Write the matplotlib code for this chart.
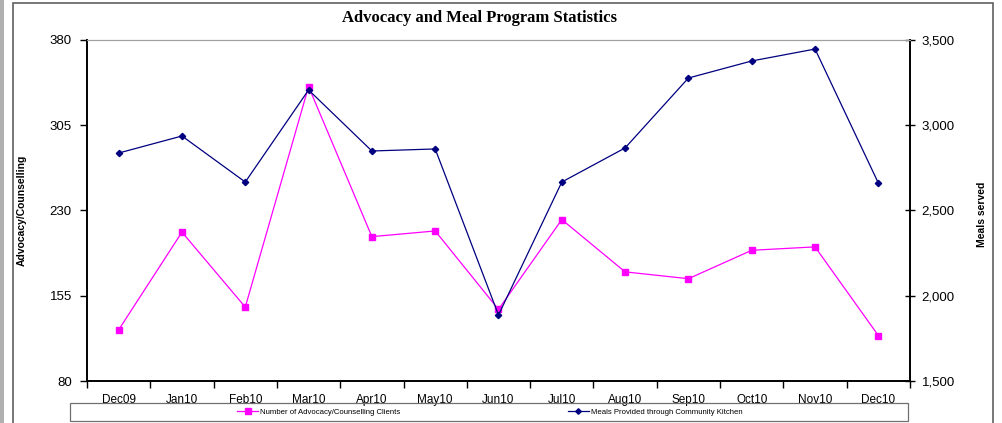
import matplotlib
matplotlib.use("Agg")
import matplotlib.pyplot as plt
from matplotlib.patches import Rectangle
from matplotlib.lines import Line2D
import numpy as np

months = ['Dec09', 'Jan10', 'Feb10', 'Mar10', 'Apr10', 'May10', 'Jun10',
          'Jul10', 'Aug10', 'Sep10', 'Oct10', 'Nov10', 'Dec10']

# advocacy / counselling clients (left axis)
advocacy = [125, 211, 145, 339, 207, 212, 143, 222, 176, 170, 195, 198, 120]

# meals from community kitchen (right axis)
meals = [2837, 2937, 2667, 3207, 2849, 2861, 1887, 2667, 2867, 3277, 3377, 3447, 2661]

plt.rcParams['font.family'] = ['Liberation Sans', 'DejaVu Sans']

W, H = 1003, 423
fig = plt.figure(figsize=(W / 100, H / 100), dpi=100)

# chart outer border + left strip
fig.patches.append(Rectangle((13 / W, -0.01), 980 / W, 1 - 3 / H + 0.01,
                             transform=fig.transFigure, fill=False,
                             edgecolor='#606060', lw=1.2))
fig.patches.append(Rectangle((0, 0), 4 / W, 1, transform=fig.transFigure,
                             facecolor='#b0b0b0', edgecolor='none'))

ax = fig.add_axes([87 / W, 1 - 381 / H, 823 / W, 341 / H])
ax2 = ax.twinx()

x = np.arange(len(months))
ax.plot(x, advocacy, color='#FF00FF', lw=0.9, marker='s', ms=5,
        mec='#FF00FF', mfc='#FF00FF', zorder=3)
ax2.plot(x, meals, color='#000080', lw=0.9, marker='D', ms=3.2,
         mec='#000080', mfc='#000080', zorder=3)

ax.set_xlim(-0.5, len(months) - 0.5)
ax.set_ylim(80, 380)
ax.set_yticks([80, 155, 230, 305, 380])
ax2.set_ylim(1500, 3500)
ax2.set_yticks([1500, 2000, 2500, 3000, 3500])
ax2.set_yticklabels(['1,500', '2,000', '2,500', '3,000', '3,500'])

ax.set_xticks(x)
ax.set_xticklabels(months, fontsize=8.5)
ax.set_xticks(np.arange(-0.5, len(months)), minor=True)
ax.tick_params(axis='x', which='major', length=0, pad=9)
ax.tick_params(axis='x', which='minor', length=5, direction='out', width=1)
ax.tick_params(axis='y', length=5, direction='out', labelsize=9.5, width=1, pad=6)
ax2.tick_params(axis='y', length=7, direction='inout', labelsize=9.5, width=1, pad=5)

for a in (ax, ax2):
    a.spines['top'].set_color('#a0a0a0')
    a.spines['left'].set_linewidth(1.2)
    a.spines['bottom'].set_linewidth(1.2)
    a.spines['right'].set_linewidth(1.2)

ax.set_ylabel('Advocacy/Counselling', fontsize=7.5, fontweight='bold')
ax.yaxis.set_label_coords(-60 / 823, 0.5)
ax2.set_ylabel('Meals served', fontsize=7.5, fontweight='bold')
ax2.yaxis.set_label_coords((977 - 87) / 823, 0.49)

fig.text(480 / W, 1 - 18 / H, 'Advocacy and Meal Program Statistics',
         family=['Liberation Serif', 'DejaVu Serif'], fontweight='bold',
         fontsize=12, ha='center', va='center')

# legend box
fig.patches.append(Rectangle((70 / W, 2 / H), 838 / W, 18 / H,
                             transform=fig.transFigure, fill=False,
                             edgecolor='#707070', lw=0.9))
h1 = Line2D([], [], color='#FF00FF', lw=0.9, marker='s', ms=4.5)
h2 = Line2D([], [], color='#000080', lw=0.9, marker='D', ms=2.8)
fig.legend([h1, h2], ['Number of Advocacy/Counselling Clients',
                      'Meals Provided through Community Kitchen'],
           loc='center', bbox_to_anchor=(490 / W, 11 / H), ncol=2,
           frameon=False, fontsize=5.6, handlelength=2.7, handletextpad=0.3,
           columnspacing=21.5)

fig.savefig('out.png', dpi=100)
